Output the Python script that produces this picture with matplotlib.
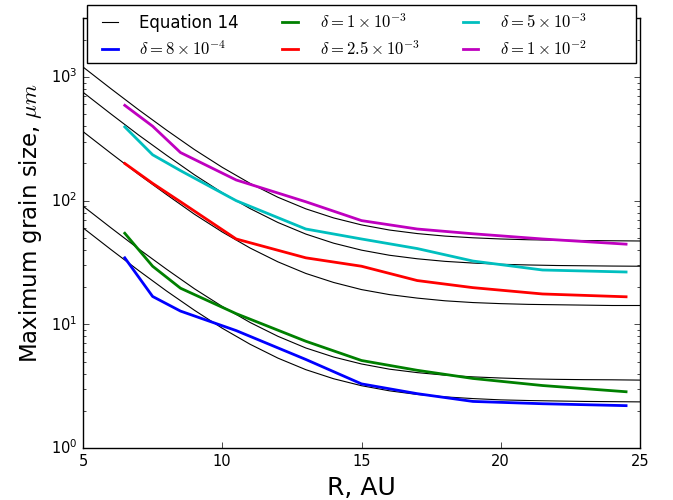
"""
Maximum grain size vs radius: simulation runs for several delta values
compared with the Equation 14 estimate.
"""

import matplotlib
matplotlib.use("Agg")
import matplotlib.pyplot as plt
from matplotlib.patches import Rectangle


# =======================
# DATA
# =======================
# Equation 14 curves, sampled every 1 AU from 5 to 25
R_EQ = list(range(5, 26))
EQ_DELTA_1E2 = [1205, 805, 543, 372, 259, 186, 138, 106.5, 85.9, 72.5, 63.7,
                57.9, 54.2, 51.7, 50.1, 49.0, 48.3, 47.9, 47.6, 47.4, 47.2]
EQ_DELTA_5E3 = [753, 503, 339, 233, 162, 116, 86.3, 66.6, 53.7, 45.3, 39.8,
                36.2, 33.9, 32.3, 31.3, 30.6, 30.2, 29.9, 29.75, 29.6, 29.5]
EQ_DELTA_25E4 = [362, 242, 163, 112, 77.7, 55.8, 41.4, 32.0, 25.8, 21.8, 19.1,
                 17.4, 16.3, 15.5, 15.0, 14.7, 14.5, 14.4, 14.3, 14.2, 14.2]
EQ_DELTA_1E3 = [90.4, 60.4, 40.7, 27.9, 19.4, 13.95, 10.35, 8.0, 6.44, 5.44, 4.78,
                4.34, 4.07, 3.88, 3.76, 3.68, 3.62, 3.59, 3.57, 3.56, 3.54]
EQ_DELTA_8E4 = [60.3, 40.3, 27.2, 18.6, 13.0, 9.3, 6.9, 5.33, 4.30, 3.63, 3.19,
                2.90, 2.71, 2.59, 2.51, 2.45, 2.42, 2.40, 2.38, 2.37, 2.36]

# simulation results
R_SIM = [6.5, 7.5, 8.5, 10.5, 13, 15, 17, 19, 21.5, 24.5]
SIM_8E4 = [34.5, 16.8, 12.8, 8.9, 5.2, 3.3, 2.75, 2.38, 2.28, 2.2]
SIM_1E3 = [54.5, 29.5, 19.6, 12.2, 7.3, 5.1, 4.25, 3.65, 3.2, 2.85]
SIM_25E4 = [200, 138, 98, 49, 34.5, 29.5, 22.6, 19.8, 17.6, 16.7]
SIM_5E3 = [395, 235, 175, 100, 59, 49, 41, 32.5, 27.5, 26.5]
SIM_1E2 = [590, 400, 245, 147, 98, 69, 59, 54, 49, 44.5]

EQ_CURVES = [EQ_DELTA_1E2, EQ_DELTA_5E3, EQ_DELTA_25E4, EQ_DELTA_1E3, EQ_DELTA_8E4]

SIM_SERIES = [
    (SIM_8E4, "b", r"$\delta = 8 \times 10^{-4}$"),
    (SIM_1E3, "g", r"$\delta = 1 \times 10^{-3}$"),
    (SIM_25E4, "r", r"$\delta = 2.5 \times 10^{-3}$"),
    (SIM_5E3, "c", r"$\delta = 5 \times 10^{-3}$"),
    (SIM_1E2, "m", r"$\delta = 1 \times 10^{-2}$"),
]


# =======================
# PLOT
# =======================
plt.style.use("classic")
plt.rcParams["figure.facecolor"] = "white"
plt.rcParams["savefig.facecolor"] = "white"

fig = plt.figure(figsize=(6.73, 5.0), dpi=100)
ax = fig.add_axes([83 / 673, 52 / 500, 557 / 673, 430 / 500])

for i, curve in enumerate(EQ_CURVES):
    ax.plot(R_EQ, curve, color="k", lw=0.8,
            label="Equation 14" if i == 0 else None)

for values, color, label in SIM_SERIES:
    ax.plot(R_SIM, values, color=color, lw=2, label=label)

ax.set_yscale("log")
ax.set_xlim(5, 25)
ax.set_ylim(1, 3000)
ax.set_xticks([5, 10, 15, 20, 25])
ax.tick_params(labelsize=10.5)

ax.set_xlabel("R, AU", fontsize=18)
ax.set_ylabel(r"Maximum grain size, $\mu m$", fontsize=16.5)
ax.yaxis.label.set_y(0.523)

# legend box is wider than its contents in the original, so draw frame separately
frame = Rectangle((0.0072, 0.8953), 0.9856, 0.1349, transform=ax.transAxes,
                  facecolor="white", edgecolor="black", lw=1.0,
                  clip_on=False, zorder=4.5)
ax.add_patch(frame)
leg = ax.legend(loc="upper left", bbox_to_anchor=(0.0131, 1.0263),
                borderaxespad=0, ncol=3, fontsize=12, frameon=False,
                handlelength=1.55, handletextpad=1.0, columnspacing=2.28)
leg.set_zorder(5)

plt.savefig("out.png", dpi=100)
